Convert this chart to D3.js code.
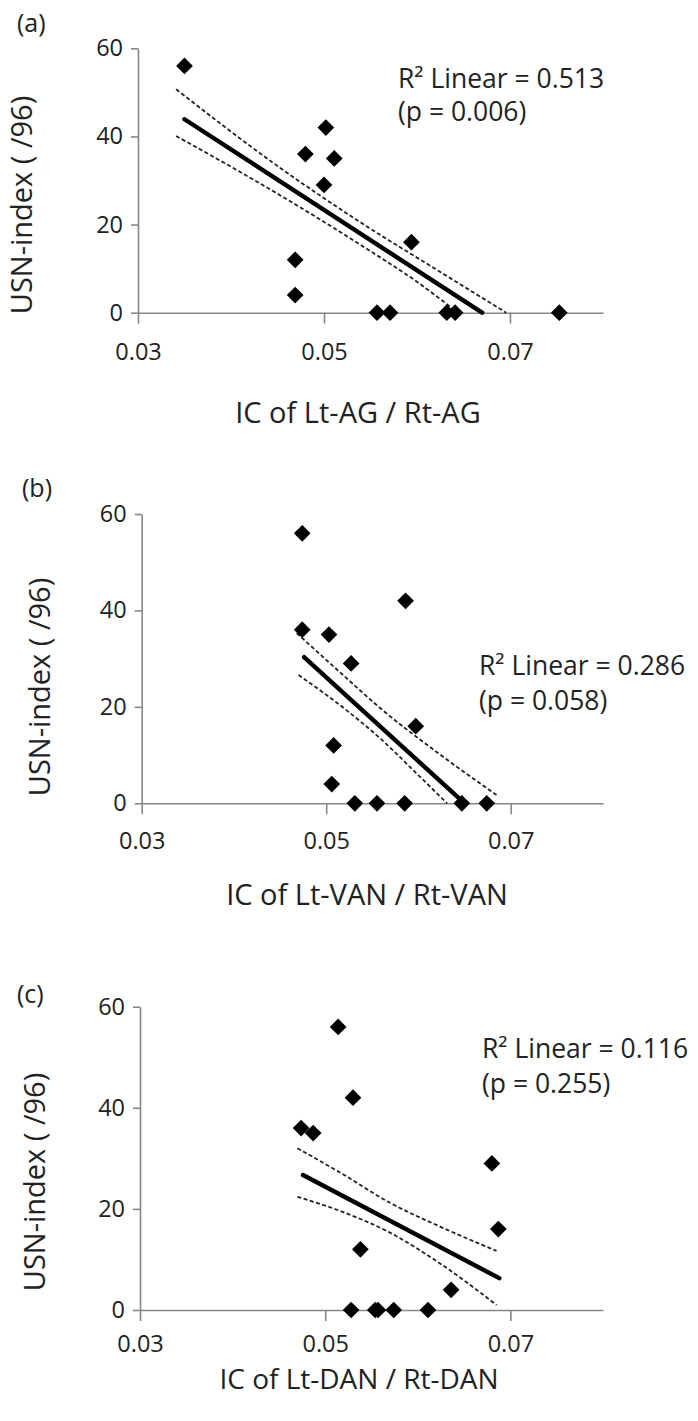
<!DOCTYPE html>
<html>
<head>
<meta charset="utf-8">
<script src="https://cdn.jsdelivr.net/npm/d3@7"></script>
<style>
  html, body { margin: 0; padding: 0; background: #fff; }
  svg { display: block; }
  text { font-family: "Open Sans", "Noto Sans", sans-serif; fill: #222; }
</style>
</head>
<body>
<svg id="chart" width="698" height="1421"></svg>
<script>
// ---------------- DATA ----------------
const panelLetters = ["(a)", "(b)", "(c)"];
const xTitles = ["IC of Lt-AG / Rt-AG", "IC of Lt-VAN / Rt-VAN", "IC of Lt-DAN / Rt-DAN"];
const yTitle = "USN-index ( /96)";
const r2Labels = ["R\u00B2 Linear = 0.513", "R\u00B2 Linear = 0.286", "R\u00B2 Linear = 0.116"];
const pLabels = ["(p = 0.006)", "(p = 0.058)", "(p = 0.255)"];

const xTickValues = [0.03, 0.05, 0.07];
const yTickValues = [0, 20, 40, 60];
const xDomain = [0.03, 0.08];
const yDomain = [0, 60];

// USN-index per patient (same patients in every panel)
const usnIndex = [56, 42, 36, 35, 29, 16, 12, 4, 0, 0, 0, 0, 0];
// IC values per patient
const icAG  = [0.0350, 0.0502, 0.0480, 0.0511, 0.0500, 0.0594, 0.0469, 0.0469, 0.0557, 0.0571, 0.0632, 0.0641, 0.0753];
const icVAN = [0.0474, 0.0586, 0.0474, 0.0503, 0.0527, 0.0597, 0.0508, 0.0506, 0.0531, 0.0555, 0.0585, 0.0647, 0.0674];
const icDAN = [0.0514, 0.0530, 0.0474, 0.0487, 0.0680, 0.0687, 0.0538, 0.0636, 0.0528, 0.0554, 0.0557, 0.0574, 0.0611];

// Fit lines and 95% confidence bands
const fitAG   = [[0.0350, 43.9], [0.0670, 0]];
const upperAG = [[0.0341, 50.7], [0.0450, 33.3], [0.0540, 20.4], [0.0620, 9.9], [0.0696, 0]];
const lowerAG = [[0.0341, 40.1], [0.0450, 27.0], [0.0540, 15.3], [0.0600, 7.0], [0.0644, 0]];

const fitVAN   = [[0.0476, 30.3], [0.0650, 0]];
const upperVAN = [[0.0468, 35.3], [0.0520, 26.3], [0.0560, 19.5], [0.0620, 10.6], [0.0687, 1.4]];
const lowerVAN = [[0.0470, 26.6], [0.0520, 19.6], [0.0560, 13.2], [0.0600, 5.8], [0.0631, 0]];

const fitDAN   = [[0.0476, 26.7], [0.0688, 6.3]];
const upperDAN = [[0.0470, 32.0], [0.0516, 27.2], [0.0570, 21.2], [0.0624, 16.5], [0.0685, 11.7]];
const lowerDAN = [[0.0470, 22.4], [0.0516, 19.6], [0.0570, 15.3], [0.0624, 9.2], [0.0685, 1.0]];

const xSeries = [icAG, icVAN, icDAN];
const fits = [fitAG, fitVAN, fitDAN];
const uppers = [upperAG, upperVAN, upperDAN];
const lowers = [lowerAG, lowerVAN, lowerDAN];

// ---------------- LAYOUT ----------------
const layout = [
  { x0: 138,   x1: 603, yTop: 48.3,  yBot: 312.7, pad: 20, lab: [17, 32],  ann: [398, 88, 121],  xt: [358, 423, 29],  yt: [32, 205] },
  { x0: 141.7, x1: 603, yTop: 514,   yBot: 803.3, pad: 18, lab: [22, 497], ann: [479, 675, 710], xt: [367, 905, 29],  yt: [50, 687] },
  { x0: 140,   x1: 603, yTop: 1006.7, yBot: 1310, pad: 14, lab: [17, 1003], ann: [482, 1058, 1093], xt: [359, 1389, 28], yt: [45, 1182] }
];

const svg = d3.select("#chart");
const axisColor = "#878787";

layout.forEach((L, i) => {
  const g = svg.append("g");
  const x = d3.scaleLinear().domain(xDomain).range([L.x0, L.x1]);
  const y = d3.scaleLinear().domain(yDomain).range([L.yBot, L.yTop]);

  // x axis
  const xa = g.append("g").attr("transform", `translate(0,${L.yBot})`)
    .call(d3.axisBottom(x).tickValues(xTickValues).tickFormat(d3.format(".2f"))
      .tickSize(11).tickPadding(L.pad).tickSizeOuter(0));
  // y axis
  const ya = g.append("g").attr("transform", `translate(${L.x0},0)`)
    .call(d3.axisLeft(y).tickValues(yTickValues).tickSize(7).tickPadding(8).tickSizeOuter(0));

  [xa, ya].forEach(a => {
    a.select(".domain").attr("stroke", axisColor).attr("stroke-width", 1.6);
    a.selectAll(".tick line").attr("stroke", axisColor).attr("stroke-width", 1.6);
    a.selectAll(".tick text").attr("font-size", 23.5).attr("fill", "#222")
      .attr("font-family", '"Open Sans", "Noto Sans", sans-serif');
  });

  const line = d3.line().x(d => x(d[0])).y(d => y(d[1]));
  const curve = d3.line().x(d => x(d[0])).y(d => y(d[1])).curve(d3.curveMonotoneX);

  // confidence bands
  [uppers[i], lowers[i]].forEach(band => {
    g.append("path").attr("d", curve(band)).attr("fill", "none")
      .attr("stroke", "#222").attr("stroke-width", 1.8).attr("stroke-dasharray", "4,2.5");
  });
  // fit line
  g.append("path").attr("d", line(fits[i])).attr("fill", "none")
    .attr("stroke", "#000").attr("stroke-width", 4.4).attr("stroke-linecap", "round");

  // points
  const sym = d3.symbol().type(d3.symbolSquare).size(140);
  g.selectAll("path.pt").data(usnIndex.map((v, k) => [xSeries[i][k], v]))
    .join("path").attr("class", "pt")
    .attr("d", sym)
    .attr("transform", d => `translate(${x(d[0])},${y(d[1])}) rotate(45)`)
    .attr("fill", "#000");

  // panel letter
  g.append("text").attr("x", L.lab[0]).attr("y", L.lab[1]).attr("font-size", 25).text(panelLetters[i]);
  // annotations
  g.append("text").attr("x", L.ann[0]).attr("y", L.ann[1]).attr("font-size", 26.5).text(r2Labels[i]);
  g.append("text").attr("x", L.ann[0]).attr("y", L.ann[2]).attr("font-size", 26.5).text(pLabels[i]);
  // axis titles
  g.append("text").attr("x", L.xt[0]).attr("y", L.xt[1]).attr("text-anchor", "middle")
    .attr("font-size", L.xt[2]).text(xTitles[i]);
  g.append("text").attr("transform", `translate(${L.yt[0]},${L.yt[1]}) rotate(-90)`)
    .attr("text-anchor", "middle").attr("font-size", 29).text(yTitle);
});
</script>
</body>
</html>
